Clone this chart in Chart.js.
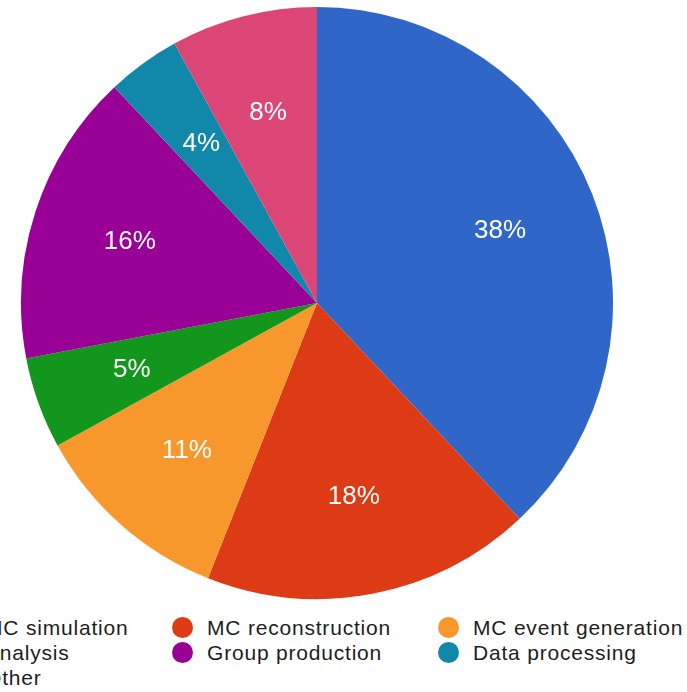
<!DOCTYPE html>
<html>
<head>
<meta charset="utf-8">
<script src="https://cdn.jsdelivr.net/npm/chart.js@4.4.1/dist/chart.umd.min.js"></script>
<style>
    body {
        margin: 0;
        background: #ffffff;
        width: 687px;
        height: 692px;
        overflow: hidden;
        position: relative;
        font-family: 'Liberation Sans', Arial, Helvetica, sans-serif;
    }
    #chartBox {
        position: absolute;
        left: 17px;
        top: 0px;
        width: 600px;
        height: 606px;
    }
    #legend {
        position: absolute;
        left: -50px;
        top: 617px;
        display: grid;
        grid-template-columns: 222px 266px auto;
        row-gap: 4px;
        color: #1e1e1e;
        font-size: 21px;
        line-height: 21px;
        letter-spacing: 0.8px;
    }
    .item {
        display: flex;
        align-items: center;
        height: 21px;
        white-space: nowrap;
    }
    .dot {
        width: 21px;
        height: 21px;
        border-radius: 50%;
        margin-right: 14px;
        flex: none;
    }
</style>
</head>
<body>
<div id="chartBox"><canvas id="myChart"></canvas></div>
<div id="legend"></div>
<script>
const categories = [
    'MC simulation',
    'MC reconstruction',
    'MC event generation',
    'Analysis',
    'Group production',
    'Data processing',
    'Other'
];
const shares = [38, 18, 11, 5, 16, 4, 8];
const sliceColors = [
    '#3066c8', // blue
    '#dc3b15', // red
    '#f8982c', // orange
    '#13961c', // green
    '#980096', // purple
    '#1188aa', // teal
    '#dc4676'  // pink
];

// percent text inside each slice
const sliceLabels = {
    id: 'sliceLabels',
    afterDatasetsDraw(chart){
        const ctx = chart.ctx;
        const meta = chart.getDatasetMeta(0);
        ctx.save();
        ctx.fillStyle = '#ffffff';
        ctx.font = '26px "Liberation Sans", Arial, sans-serif';
        ctx.textAlign = 'center';
        ctx.textBaseline = 'middle';
        meta.data.forEach((arc, i) => {
            const mid = (arc.startAngle + arc.endAngle) / 2;
            const r = arc.outerRadius * 0.665;
            const x = arc.x + Math.cos(mid) * r;
            const y = arc.y + Math.sin(mid) * r;
            ctx.fillText(chart.data.datasets[0].data[i] + '%', x, y);
        });
        ctx.restore();
    }
};

// legend laid out as a 3 column grid under the pie
const htmlLegend = {
    id: 'htmlLegend',
    afterUpdate(chart){
        const box = document.querySelector('#legend');
        box.innerHTML = '';
        chart.data.labels.forEach((label, i) => {
            const item = document.createElement('div');
            item.className = 'item';
            const dot = document.createElement('span');
            dot.className = 'dot';
            dot.style.background = chart.data.datasets[0].backgroundColor[i];
            const txt = document.createElement('span');
            txt.textContent = label;
            item.appendChild(dot);
            item.appendChild(txt);
            box.appendChild(item);
        });
    }
};

const ctx = document.querySelector('#myChart').getContext('2d');
const myChart = new Chart(ctx, {
    type: 'pie',
    data: {
        labels: categories,
        datasets: [{
            data: shares,
            backgroundColor: sliceColors,
            borderWidth: 0
        }]
    },
    options: {
        responsive: true,
        maintainAspectRatio: false,
        animation: false,
        layout: {
            padding: 4
        },
        plugins: {
            legend: {
                display: false
            },
            tooltip: {
                enabled: false
            }
        }
    },
    plugins: [sliceLabels, htmlLegend]
});
</script>
</body>
</html>
